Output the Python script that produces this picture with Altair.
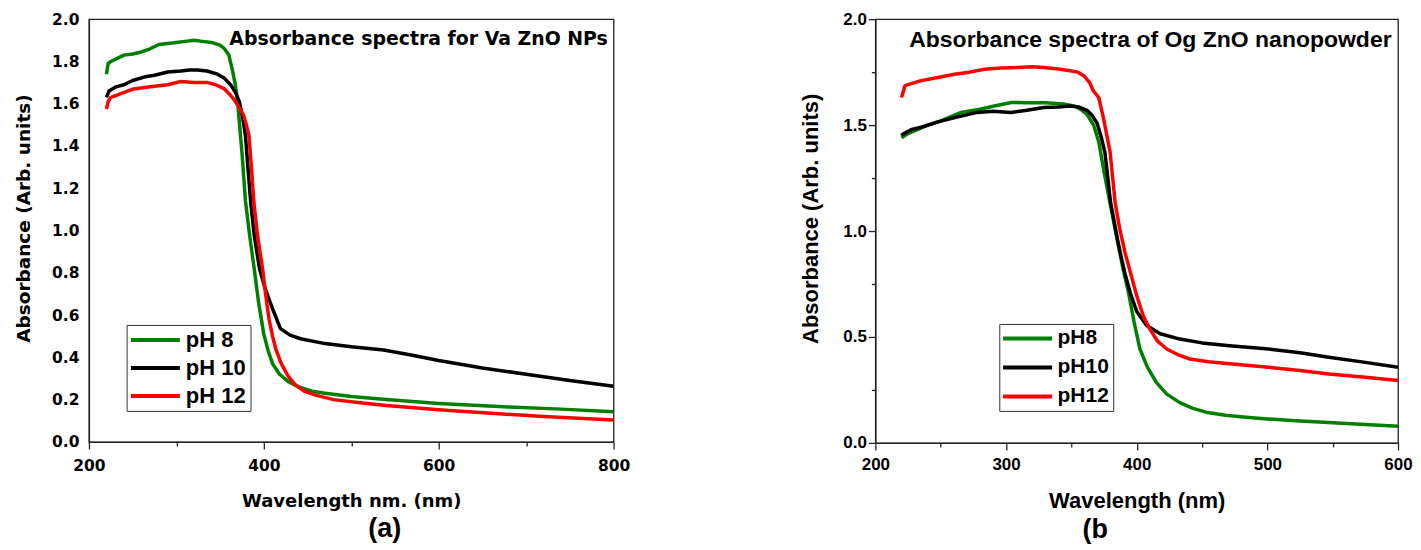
import altair as alt
import pandas as pd

# ---------------- data ----------------
LEFT_NAMES = ["pH 8", "pH 10", "pH 12"]
RIGHT_NAMES = ["pH8", "pH10", "pH12"]
COLORS = ["#008000", "#000000", "#ff0000"]

# Panel (a): Va ZnO NPs
a_ph8_wl = [220, 222, 225, 230, 240, 250, 260, 270, 280, 290, 300, 310, 320, 330, 340, 350, 355, 360, 364, 367, 370,
            375, 379, 384, 389, 394, 400, 405, 410, 418, 428, 440, 455, 470, 500, 540, 600, 680, 740, 800]
a_ph8_ab = [1.74, 1.79, 1.80, 1.81, 1.83, 1.835, 1.845, 1.86, 1.88, 1.885, 1.89, 1.895, 1.90, 1.895, 1.89, 1.877, 1.86,
            1.83, 1.76, 1.70, 1.61, 1.37, 1.14, 0.97, 0.82, 0.66, 0.51, 0.43, 0.37, 0.32, 0.285, 0.26, 0.24, 0.23,
            0.215, 0.20, 0.182, 0.165, 0.155, 0.143]

a_ph10_wl = [220, 223, 231, 240, 250, 263, 275, 290, 305, 315, 324, 335, 347, 355, 362, 368, 372, 376, 379, 382, 385,
             389, 395, 402, 410, 419, 430, 442, 470, 500, 537, 570, 600, 650, 700, 750, 800]
a_ph10_ab = [1.63, 1.66, 1.68, 1.69, 1.71, 1.726, 1.735, 1.75, 1.755, 1.76, 1.76, 1.755, 1.74, 1.72, 1.69, 1.65, 1.61,
             1.53, 1.45, 1.29, 1.135, 0.98, 0.82, 0.72, 0.63, 0.536, 0.505, 0.488, 0.465, 0.45, 0.435, 0.41, 0.385,
             0.35, 0.32, 0.29, 0.263]

a_ph12_wl = [220, 222, 225, 235, 251, 270, 290, 305, 320, 336, 345, 355, 362, 366, 372, 377, 380, 383, 386, 388.6,
             393, 398.6, 402, 406, 410, 414, 420, 428, 436, 446, 460, 480, 510, 540, 600, 660, 720, 800]
a_ph12_ab = [1.575, 1.61, 1.63, 1.645, 1.67, 1.68, 1.69, 1.705, 1.70, 1.70, 1.69, 1.67, 1.64, 1.62, 1.58, 1.545, 1.50,
             1.45, 1.29, 1.135, 0.97, 0.818, 0.70, 0.58, 0.50, 0.435, 0.37, 0.31, 0.27, 0.24, 0.22, 0.20, 0.185,
             0.172, 0.152, 0.135, 0.12, 0.103]

# Panel (b): Og ZnO nanopowder
b_ph8_wl = [220, 225, 240, 250, 265.6, 280, 291, 304, 316, 330, 344, 352, 357, 362, 367, 371, 375, 380, 385, 390,
            393.7, 398, 402.5, 408, 415, 423, 433, 443, 453, 468, 483.7, 500, 521.7, 550, 575, 600]
b_ph8_ab = [1.44, 1.46, 1.50, 1.52, 1.56, 1.575, 1.59, 1.607, 1.605, 1.605, 1.60, 1.59, 1.575, 1.55, 1.50, 1.42, 1.28,
            1.12, 0.96, 0.81, 0.71, 0.57, 0.443, 0.36, 0.286, 0.23, 0.19, 0.163, 0.145, 0.13, 0.121, 0.113, 0.105,
            0.095, 0.087, 0.079]

b_ph10_wl = [220, 221, 228, 235, 248, 260.8, 278, 290, 303.7, 316, 329, 340, 349, 356, 362, 366, 369.6, 373, 375.7,
             380, 385, 387.3, 391, 395, 400, 407.6, 418, 433, 450, 471, 501, 525, 547, 575, 600]
b_ph10_ab = [1.45, 1.457, 1.48, 1.49, 1.515, 1.536, 1.56, 1.565, 1.56, 1.57, 1.583, 1.585, 1.59, 1.585, 1.57, 1.545,
             1.51, 1.44, 1.37, 1.135, 0.97, 0.90, 0.80, 0.71, 0.62, 0.554, 0.515, 0.49, 0.472, 0.459, 0.443, 0.425,
             0.404, 0.38, 0.357]

b_ph12_wl = [220, 222.6, 235, 248, 260.6, 272, 283.5, 296, 308.7, 320, 329, 340, 349, 355, 359.5, 364, 367, 371, 375,
             379.7, 383.5, 387, 391, 400, 405, 410, 416, 423, 432, 440.6, 455, 471, 501, 525, 547, 575, 600]
b_ph12_ab = [1.63, 1.686, 1.71, 1.725, 1.74, 1.75, 1.764, 1.77, 1.772, 1.775, 1.772, 1.765, 1.757, 1.75, 1.733, 1.70,
             1.66, 1.63, 1.52, 1.37, 1.135, 1.01, 0.90, 0.695, 0.60, 0.538, 0.48, 0.443, 0.415, 0.396, 0.383, 0.373,
             0.357, 0.342, 0.325, 0.31, 0.294]

LEFT_TITLE = "Absorbance spectra for Va ZnO NPs"
RIGHT_TITLE = "Absorbance spectra of Og ZnO nanopowder"
LEFT_XTITLE = "Wavelength nm. (nm)"
RIGHT_XTITLE = "Wavelength (nm)"
YTITLE = "Absorbance (Arb. units)"

LEFT_X_TICKS = [200, 300, 400, 500, 600, 700, 800]
RIGHT_X_TICKS = [200, 250, 300, 350, 400, 450, 500, 550, 600]
LEFT_Y_TICKS = [0.0, 0.2, 0.4, 0.6, 0.8, 1.0, 1.2, 1.4, 1.6, 1.8, 2.0]
RIGHT_Y_TICKS = [0.0, 0.25, 0.5, 0.75, 1.0, 1.25, 1.5, 1.75, 2.0]

DJ = "DejaVu Sans"
LS = "Liberation Sans"


def series_df(names, wls, abss):
    rows = []
    for name, wl, ab in zip(names, wls, abss):
        for w, a in zip(wl, ab):
            rows.append({"series": name, "wl": w, "abs": a})
    return pd.DataFrame(rows)


left_df = series_df(LEFT_NAMES, [a_ph8_wl, a_ph10_wl, a_ph12_wl], [a_ph8_ab, a_ph10_ab, a_ph12_ab])
right_df = series_df(RIGHT_NAMES, [b_ph8_wl, b_ph10_wl, b_ph12_wl], [b_ph8_ab, b_ph10_ab, b_ph12_ab])

# ---------------- left panel ----------------
xL = alt.X("wl:Q", scale=alt.Scale(domain=[200, 800], nice=False, zero=False),
           axis=alt.Axis(values=LEFT_X_TICKS, labelExpr="datum.value % 200 == 0 ? datum.value : ''",
                         tickSize={"condition": {"test": "datum.value % 200 != 0", "value": 4}, "value": 7},
                         labelFlush=False, labelOverlap=False, labelPadding=10,
                         labelFont=DJ, labelFontSize=15.5, labelFontWeight="bold",
                         title=LEFT_XTITLE, titleFont=DJ, titleFontSize=18, titleFontWeight="bold",
                         titleBaseline="alphabetic", titleY=65))
yL = alt.Y("abs:Q", scale=alt.Scale(domain=[0, 2], nice=False, zero=False),
           axis=alt.Axis(values=LEFT_Y_TICKS, format=".1f", ticks=False, labelPadding=10,
                         labelFlush=False, labelOverlap=False,
                         labelFont=DJ, labelFontSize=15.5, labelFontWeight="bold",
                         title=YTITLE, titleFont=DJ, titleFontSize=18.5, titleFontWeight="bold",
                         titleBaseline="alphabetic", titleX=-59, titleY=199, titleAngle=270))
colL = alt.Color("series:N", scale=alt.Scale(domain=LEFT_NAMES, range=COLORS),
                 legend=alt.Legend(title=None, orient="none", legendX=37.7, legendY=306,
                                   symbolType="M-1.34,0H4.79", symbolSize=256, symbolStrokeWidth=4,
                                   labelFont=LS, labelFontSize=22, labelFontWeight="bold", labelColor="black",
                                   labelOffset=33.3, rowPadding=6, padding=4, labelLimit=0,
                                   strokeColor="#333", fillColor="white"))

left_layers = []
for n in LEFT_NAMES:
    left_layers.append(
        alt.Chart(left_df).transform_filter(alt.datum.series == n)
        .mark_line(strokeWidth=3.5, strokeJoin="round", clip=True)
        .encode(x=xL, y=yL, color=colL)
    )
left_title = alt.Chart(pd.DataFrame({"wl": [577], "abs": [1.905], "t": [LEFT_TITLE]})).mark_text(
    font=DJ, fontSize=18.9, fontWeight="bold", align="center", baseline="middle", color="black"
).encode(x="wl:Q", y="abs:Q", text="t:N")
left_tag = alt.Chart(pd.DataFrame({"wl": [538.3], "abs": [-0.4515], "t": ["(a)"]})).mark_text(
    font=LS, fontSize=27, fontWeight="bold", align="center", baseline="alphabetic", color="black"
).encode(x="wl:Q", y="abs:Q", text="t:N")
left = alt.layer(*left_layers, left_title, left_tag).properties(width=525, height=423)

# ---------------- right panel ----------------
xR = alt.X("wl:Q", scale=alt.Scale(domain=[200, 600], nice=False, zero=False),
           axis=alt.Axis(values=RIGHT_X_TICKS, labelExpr="datum.value % 100 == 0 ? datum.value : ''",
                         tickSize={"condition": {"test": "datum.value % 100 != 0", "value": 4}, "value": 7},
                         labelFlush=False, labelOverlap=False, labelPadding=7,
                         labelFont=LS, labelFontSize=17, labelFontWeight="bold",
                         title=RIGHT_XTITLE, titleFont=LS, titleFontSize=22, titleFontWeight="bold",
                         titleBaseline="alphabetic", titleY=64.3))
yR = alt.Y("abs:Q", scale=alt.Scale(domain=[0, 2], nice=False, zero=False),
           axis=alt.Axis(values=RIGHT_Y_TICKS,
                         labelExpr="datum.value % 0.5 == 0 ? format(datum.value, '.1f') : ''",
                         tickSize={"condition": {"test": "datum.value % 0.5 != 0", "value": 4}, "value": 7},
                         labelPadding=2, labelFlush=False, labelOverlap=False,
                         labelFont=LS, labelFontSize=17, labelFontWeight="bold",
                         title=YTITLE, titleFont=LS, titleFontSize=22, titleFontWeight="bold",
                         titleBaseline="alphabetic", titleX=-57.7, titleY=199.3, titleAngle=270))
colR = alt.Color("series:N", scale=alt.Scale(domain=RIGHT_NAMES, range=COLORS),
                 legend=alt.Legend(title=None, orient="none", legendX=124, legendY=305,
                                   symbolType="M-1.34,0H4.79", symbolSize=256, symbolStrokeWidth=4,
                                   labelFont=LS, labelFontSize=21, labelFontWeight="bold", labelColor="black",
                                   labelOffset=33.3, rowPadding=7, padding=4, labelLimit=0,
                                   strokeColor="#333", fillColor="white"))

right_layers = []
for n in RIGHT_NAMES:
    right_layers.append(
        alt.Chart(right_df).transform_filter(alt.datum.series == n)
        .mark_line(strokeWidth=3.5, strokeJoin="round", clip=True)
        .encode(x=xR, y=yR, color=colR)
    )
right_title = alt.Chart(pd.DataFrame({"wl": [410.5], "abs": [1.904], "t": [RIGHT_TITLE]})).mark_text(
    font=LS, fontSize=23, fontWeight="bold", align="center", baseline="middle", color="black"
).encode(x="wl:Q", y="abs:Q", text="t:N")
right_tag = alt.Chart(pd.DataFrame({"wl": [368.3], "abs": [-0.447], "t": ["(b"]})).mark_text(
    font=LS, fontSize=27, fontWeight="bold", align="center", baseline="alphabetic", color="black"
).encode(x="wl:Q", y="abs:Q", text="t:N")
right = alt.layer(*right_layers, right_title, right_tag).properties(width=523, height=424)

chart = (
    alt.hconcat(left, right, spacing=262, bounds="flush")
    .resolve_scale(color="independent")
    .properties(padding={"left": 6, "top": 1, "right": 0, "bottom": 0}, background="white")
    .configure_view(stroke="#222", strokeWidth=1.3)
    .configure_axis(domainColor="#222", domainWidth=1.3, tickColor="#222", tickWidth=1.3, grid=False,
                    labelColor="black", titleColor="black")
)

chart.save("out.html", embed_options={"renderer": "svg", "actions": False})
